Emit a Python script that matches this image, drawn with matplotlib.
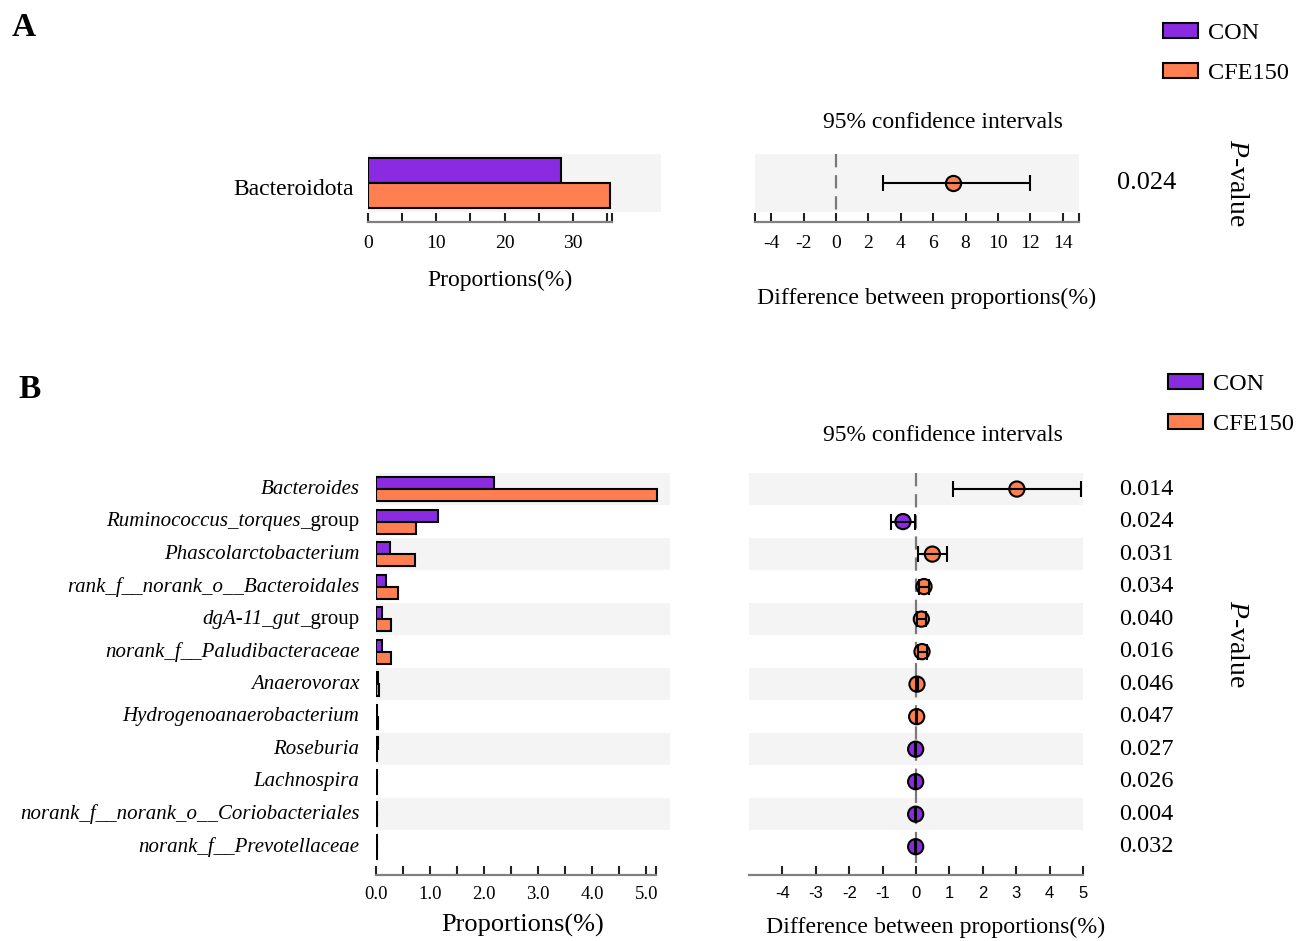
import numpy as np
import matplotlib
matplotlib.use("Agg")
import matplotlib.pyplot as plt
from matplotlib.patches import Patch

plt.rcParams["font.family"] = ["Liberation Serif", "DejaVu Serif"]
plt.rcParams["mathtext.fontset"] = "custom"
plt.rcParams["mathtext.rm"] = "Liberation Serif"
plt.rcParams["mathtext.it"] = "Liberation Serif:italic"

groups = ["CON", "CFE150"]
group_colors = ["#8A2BE2", "#FF7F50"]
band_color = "#F4F4F4"

# panel A: phylum level
phylum = ["Bacteroidota"]
phylum_con = [28.3]
phylum_cfe = [35.5]
phylum_diff = [7.2]
phylum_lo = [2.9]
phylum_hi = [12.0]
phylum_p = ["0.024"]

# panel B: genus level (italic part + upright suffix)
genus_it = ["Bacteroides", "Ruminococcus_torques", "Phascolarctobacterium",
            "rank_f__norank_o__Bacteroidales", "dgA-11_gut",
            "norank_f__Paludibacteraceae", "Anaerovorax",
            "Hydrogenoanaerobacterium", "Roseburia", "Lachnospira",
            "norank_f__norank_o__Coriobacteriales", "norank_f__Prevotellaceae"]
genus_rm = ["", "_group", "", "", "_group", "", "", "", "", "", "", ""]
genus_con = [2.18, 1.14, 0.25, 0.18, 0.12, 0.11, 0.04, 0.02, 0.03, 0.02, 0.02, 0.02]
genus_cfe = [5.20, 0.74, 0.73, 0.41, 0.27, 0.27, 0.06, 0.03, 0.01, 0.01, 0.01, 0.01]
genus_diff = [3.02, -0.39, 0.49, 0.24, 0.16, 0.18, 0.03, 0.02, -0.01, -0.01, -0.01, -0.01]
genus_lo = [1.11, -0.74, 0.07, 0.08, 0.03, 0.05, 0.00, 0.00, -0.03, -0.03, -0.02, -0.02]
genus_hi = [4.94, -0.03, 0.92, 0.40, 0.30, 0.32, 0.06, 0.04, 0.01, 0.01, 0.00, 0.00]
genus_p = ["0.014", "0.024", "0.031", "0.034", "0.040", "0.016",
           "0.046", "0.047", "0.027", "0.026", "0.004", "0.032"]

W, H = 1296, 941
fig = plt.figure(figsize=(W / 100, H / 100), dpi=100)


def px_axes(x0, x1, y0, y1):
    return fig.add_axes([x0 / W, 1 - y1 / H, (x1 - x0) / W, (y1 - y0) / H])


def style_x(ax, lo, hi, ticks, labels, extra, fontsize, pad, family=None):
    for s in ["left", "right", "top"]:
        ax.spines[s].set_visible(False)
    sp = ax.spines["bottom"]
    sp.set_color("#808080")
    sp.set_linewidth(1.6)
    sp.set_bounds(lo, hi)
    ax.set_yticks([])
    ax.set_xticks(ticks)
    ax.set_xticklabels(labels, fontsize=fontsize, family=family)
    ax.set_xticks(extra, minor=True)
    ax.tick_params(axis="x", which="both", direction="in", length=6.5,
                   width=1.5, color="#222222", pad=pad)


def draw_bars(ax, con, cfe, n, gap):
    y = np.arange(n)
    for i in range(0, n, 2):
        ax.axhspan(i - 0.5, i + 0.5, color=band_color, zorder=0, lw=0)
    h = 0.37 if n > 1 else 0.431
    ax.barh(y - h / 2, con, height=h, color=group_colors[0], edgecolor="black", lw=1.5, zorder=2)
    ax.barh(y + h / 2, cfe, height=h, color=group_colors[1], edgecolor="black", lw=1.5, zorder=2)
    ax.set_ylim(n - 0.5 + gap, -0.5)


def draw_ci(ax, diff, lo, hi, n, gap, pvals, pfs, px, tpad):
    y = np.arange(n)
    diff = np.array(diff)
    for i in range(0, n, 2):
        ax.axhspan(i - 0.5, i + 0.5, color=band_color, zorder=0, lw=0)
    ax.vlines(0, -0.5, n - 0.5, colors="#7a7a7a", linestyles=(0, (6, 3.5)), lw=1.6, zorder=1)
    cols = [group_colors[1] if d > 0 else group_colors[0] for d in diff]
    ax.scatter(diff, y, s=120, c=cols, edgecolors="black", linewidths=1.5, zorder=3)
    ax.errorbar(diff, y, xerr=[diff - np.array(lo), np.array(hi) - diff], fmt="none",
                ecolor="black", elinewidth=1.5, capsize=6, capthick=1.5, zorder=4)
    ax.set_ylim(n - 0.5 + gap, -0.5)
    for i, p in enumerate(pvals):
        ax.annotate(p, xy=(px, i), xycoords=("axes fraction", "data"),
                    ha="center", va="center", fontsize=pfs)
    ax.set_title("95% confidence intervals", fontsize=17, pad=tpad, x=0.58)


# ---------- panel A ----------
axA1 = px_axes(368, 661, 154, 222)
draw_bars(axA1, phylum_con, phylum_cfe, 1, 0.172)
axA1.set_xlim(0, 42.9)
style_x(axA1, 0, 35.7, np.arange(0, 36, 5), ["0", "", "10", "", "20", "", "30", ""],
        [35.7], 14, 9)
axA1.set_xlabel("Proportions(%)", fontsize=17, labelpad=13, x=0.45)
for i, name in enumerate(phylum):
    axA1.annotate(name, xy=(0, i), xycoords=("axes fraction", "data"), xytext=(-10, -5),
                  textcoords="offset points", ha="right", va="center", fontsize=17)

axA2 = px_axes(755, 1079, 154, 222)
draw_ci(axA2, phylum_diff, phylum_lo, phylum_hi, 1, 0.172, phylum_p, 19, 1.21, 18.5)
axA2.set_xlim(-5, 15)
style_x(axA2, -5, 15, np.arange(-4, 15, 2), [str(v) for v in range(-4, 15, 2)],
        [-5, 15], 14, 9)
axA2.set_xlabel("Difference between proportions(%)", fontsize=17.2, labelpad=26, x=0.53)

# ---------- panel B ----------
nB = len(genus_it)
axB1 = px_axes(376, 670, 472.8, 875)
draw_bars(axB1, genus_con, genus_cfe, nB, 0.37)
axB1.set_xlim(0, 5.44)
style_x(axB1, 0, 5.18, np.arange(0, 5.01, 0.5),
        [f"{v:.1f}" if v % 1 == 0 else "" for v in np.arange(0, 5.01, 0.5)], [5.18], 13.5, 8)
axB1.set_xlabel("Proportions(%)", fontsize=19, labelpad=8)
for i, (it, rm) in enumerate(zip(genus_it, genus_rm)):
    if rm:
        t = axB1.annotate(rm, xy=(0, i), xycoords=("axes fraction", "data"), xytext=(-12, 0),
                          textcoords="offset points", ha="right", va="center", fontsize=15)
        axB1.annotate(it, xy=(0, 0), xycoords=t, ha="right", va="bottom",
                      fontsize=15, style="italic")
    else:
        axB1.annotate(it, xy=(0, i), xycoords=("axes fraction", "data"), xytext=(-12, 0),
                      textcoords="offset points", ha="right", va="center",
                      fontsize=15, style="italic")

axB2 = px_axes(749, 1083, 472.8, 875)
draw_ci(axB2, genus_diff, genus_lo, genus_hi, nB, 0.37, genus_p, 17.5, 1.19, 23)
axB2.set_xlim(-5, 5)
style_x(axB2, -5, 5, np.arange(-4, 6, 1), [str(v) for v in range(-4, 6)], [], 12, 8,
        family=["Liberation Sans", "DejaVu Sans"])
axB2.set_xlabel("Difference between proportions(%)", fontsize=17.2, labelpad=11, x=0.56)

# ---------- side texts, legends, panel letters ----------
for yc in [183, 644]:
    fig.text(1236 / W, 1 - yc / H, r"$\mathit{P}$-value", rotation=270,
             ha="center", va="center", fontsize=20)

handles = [Patch(facecolor=c, edgecolor="black", lw=1.5) for c in group_colors]
for x0, ytop in [(1163, 23), (1168, 374)]:
    fig.legend(handles, groups, loc="upper left", bbox_to_anchor=(x0 / W, 1 - ytop / H),
               frameon=False, fontsize=17.5, handlelength=1.45, handleheight=0.6,
               handletextpad=0.4, labelspacing=0.75, borderpad=0, borderaxespad=0)

fig.text(12 / W, 1 - 27 / H, "A", fontsize=24, weight="bold", va="center")
fig.text(18 / W, 1 - 389 / H, "B", fontsize=24, weight="bold", va="center")

fig.savefig("out.png", dpi=100)
